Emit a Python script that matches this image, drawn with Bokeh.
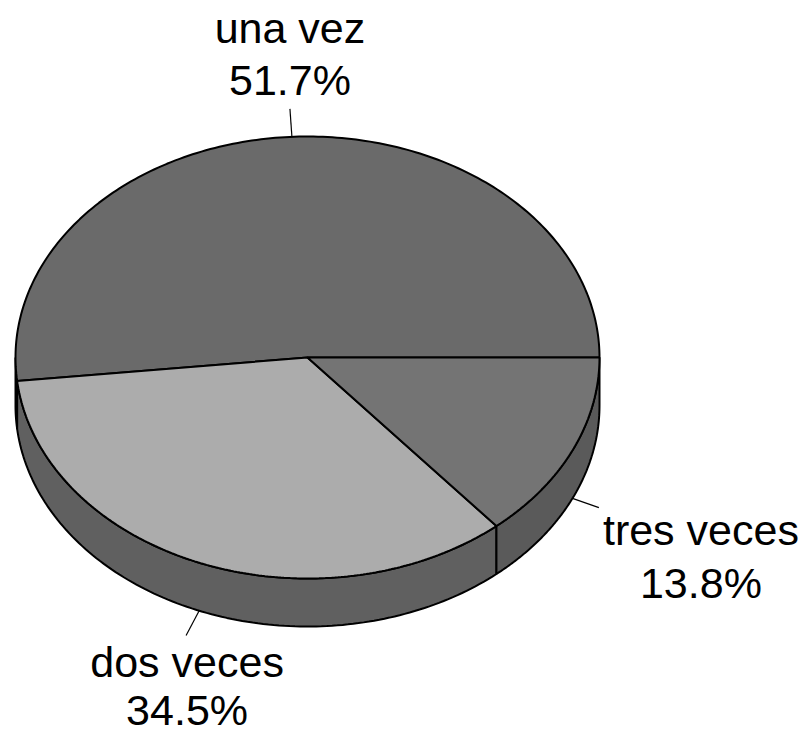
import numpy as np
from bokeh.plotting import figure
from bokeh.models import Range1d
from bokeh.embed import file_html
from bokeh.resources import INLINE
from bokeh.core.properties import value

# ---- data ----
categories = ["una vez", "dos veces", "tres veces"]
percents = [51.7, 34.5, 13.8]
pct_labels = ["51.7%", "34.5%", "13.8%"]

# ---- style ----
top_colors = ["#6a6a6a", "#acacac", "#747474"]
side_colors = ["#585858", "#606060", "#5a5a5a"]
FONT = "Liberation Sans"
FSIZE = "43px"

W, H = 805, 733
p = figure(width=W, height=H, output_backend="svg", toolbar_location=None,
           x_range=Range1d(0, W), y_range=Range1d(H, 0), min_border=0)
p.axis.visible = False
p.grid.visible = False
p.outline_line_color = None
p.background_fill_color = "white"
p.border_fill_color = "white"

cx, cy, rx, ry, depth = 307, 357, 292, 221, 48

total = sum(percents)
bounds = np.concatenate([[0.0], np.cumsum(percents) / total * 360.0])


def ex(t):
    return cx + rx * np.cos(np.radians(t))


def ey(t):
    return cy - ry * np.sin(np.radians(t))


# side walls (front half: 180..360 deg)
sx, sy, sc = [], [], []
for i in range(len(percents)):
    lo, hi = max(bounds[i], 180.0), min(bounds[i + 1], 360.0)
    if hi > lo:
        t = np.linspace(lo, hi, 120)
        xs = list(ex(t)) + list(ex(t[::-1]))
        ys = list(ey(t)) + list(ey(t[::-1]) + depth)
        sx.append(xs)
        sy.append(ys)
        sc.append(side_colors[i])
p.patches(sx, sy, fill_color=sc, line_color="black", line_width=2)

# top face slices
tx, ty = [], []
for i in range(len(percents)):
    t = np.linspace(bounds[i], bounds[i + 1], 200)
    tx.append([cx] + list(ex(t)))
    ty.append([cy] + list(ey(t)))
p.patches(tx, ty, fill_color=top_colors, line_color="black", line_width=2)

# leaders and labels (y = vertical middle of each text line)
L = 28
for i in range(len(percents)):
    mid = (bounds[i] + bounds[i + 1]) / 2.0
    x0, y0 = ex(mid), ey(mid)
    if np.sin(np.radians(mid)) < 0:
        y0 += depth
    dx, dy = rx * np.cos(np.radians(mid)), -ry * np.sin(np.radians(mid))
    n = np.hypot(dx, dy)
    x1, y1 = x0 + L * dx / n, y0 + L * dy / n
    p.segment(x0=[x0], y0=[y0], x1=[x1], y1=[y1], line_color="black", line_width=1.2)
    if abs(dx / n) > abs(dy / n):
        lx, ny, py = x1 + 102, y1 + 22, y1 + 75
    elif dy < 0:
        lx, ny, py = x1, y1 - 81, y1 - 29
    else:
        lx, ny, py = x1 + 1, y1 + 27, y1 + 75
    p.text(x=[lx, lx], y=[ny, py], text=[categories[i], pct_labels[i]],
           text_font=value(FONT), text_font_size=FSIZE, text_color="black",
           text_align="center", text_baseline="middle")

open("out.html", "w").write(file_html(p, INLINE))
